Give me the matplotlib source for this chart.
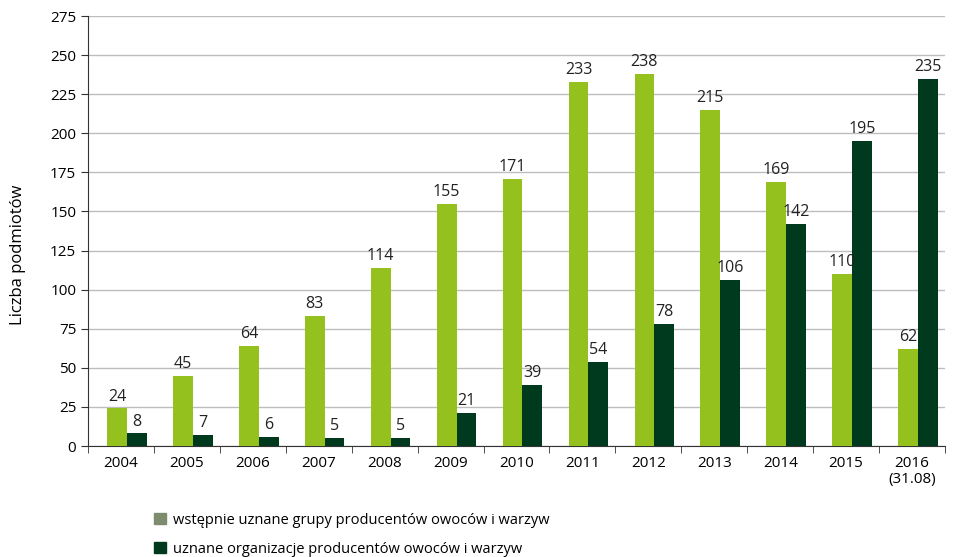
import matplotlib
matplotlib.use("Agg")
import matplotlib.pyplot as plt
from matplotlib.patches import Patch
import numpy as np

plt.rcParams['font.family'] = ['Open Sans', 'DejaVu Sans']

years = ["2004", "2005", "2006", "2007", "2008", "2009", "2010", "2011", "2012",
         "2013", "2014", "2015", "2016\n(31.08)"]
wstepne = [24, 45, 64, 83, 114, 155, 171, 233, 238, 215, 169, 110, 62]
uznane = [8, 7, 6, 5, 5, 21, 39, 54, 78, 106, 142, 195, 235]
yticks = list(range(0, 276, 25))
legend_labels = ["wstępnie uznane grupy producentów owoców i warzyw",
                 "uznane organizacje producentów owoców i warzyw"]

c_light = "#95c11f"
c_dark = "#003a1e"
c_leg_light = "#7d8c6e"

fig = plt.figure(figsize=(9.6, 5.57), dpi=100)
ax = fig.add_axes([88/960, 1-446/557, 857/960, 430/557])

x = np.arange(len(years))
w = 0.30
ax.bar(x - 0.06, wstepne, width=w, color=c_light, zorder=3)
ax.bar(x + 0.24, uznane, width=w, color=c_dark, zorder=3)

for xi, v in zip(x, wstepne):
    ax.text(xi - 0.06, v + 2.5, str(v), ha='center', va='bottom', fontsize=11.5, color='#222222')
for xi, v in zip(x, uznane):
    ax.text(xi + 0.24, v + 2.5, str(v), ha='center', va='bottom', fontsize=11.5, color='#222222')

ax.set_xlim(-0.5, len(years) - 0.5)
ax.set_ylim(0, 275)
ax.set_yticks(yticks)
ax.set_yticklabels([str(t) for t in yticks], fontsize=11)
ax.yaxis.grid(True, color='#bdbdbd', lw=1, zorder=0)
ax.set_axisbelow(True)

ax.set_xticks(x)
ax.set_xticklabels(years, fontsize=11, linespacing=1.15)
ax.set_xticks(np.arange(-0.5, len(years) + 0.5, 1), minor=True)
ax.tick_params(axis='x', which='major', length=0, pad=7)
ax.tick_params(axis='x', which='minor', length=5, color='#333333')
ax.tick_params(axis='y', length=5, color='#333333', direction='out')

for s in ['top', 'right']:
    ax.spines[s].set_visible(False)
ax.spines['left'].set_color('#333333')
ax.spines['bottom'].set_color('#333333')

ax.set_ylabel("Liczba podmiotów", fontsize=12, va='center')
ax.yaxis.set_label_coords(-0.082, 0.444)

handles = [Patch(color=c_leg_light), Patch(color=c_dark)]
fig.legend(handles, legend_labels, loc='upper left', bbox_to_anchor=(148/960, 1-507/557),
           frameon=False, fontsize=10.5, handlelength=0.8, handleheight=0.8,
           handletextpad=0.5, labelspacing=0.95, borderaxespad=0)

fig.savefig("out.png", dpi=100)
